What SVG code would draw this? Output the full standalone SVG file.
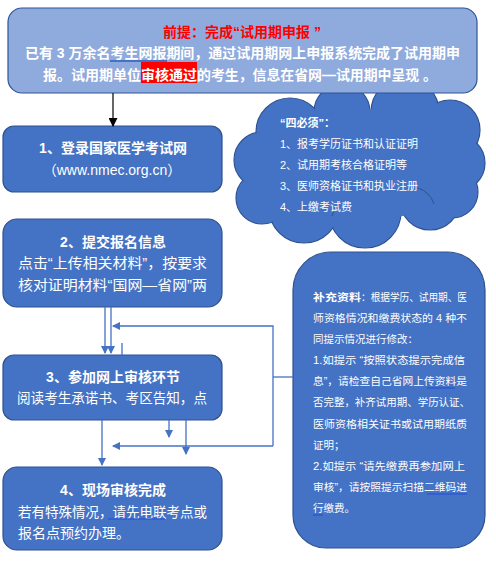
<svg xmlns="http://www.w3.org/2000/svg" width="496" height="563" viewBox="0 0 496 563">
<style>
text{font-family:"Liberation Sans","Noto Sans CJK SC",sans-serif;fill:#fff}
.box{fill:#4472C4;stroke:#2F528F;stroke-width:1.2}
.t14{font-size:14px}
.b{font-weight:bold}
.c{text-anchor:middle}
.s11{font-size:11px}
.s105{font-size:10.5px}
.con{fill:none;stroke:#4472C4;stroke-width:1.3}
.sq{fill:none;stroke:#2E5BD0;stroke-width:1.6}
</style>
<defs>
<marker id="ab" markerWidth="8" markerHeight="8" refX="7" refY="4" orient="auto" markerUnits="userSpaceOnUse">
<path d="M0,0 L8,4 L0,8 Z" fill="#4472C4"/>
</marker>
<marker id="ak" markerWidth="9" markerHeight="9" refX="8" refY="4.5" orient="auto" markerUnits="userSpaceOnUse">
<path d="M0,0 L9,4.5 L0,9 Z" fill="#000"/>
</marker>
</defs>

<g id="cloud">
<g fill="#4472C4" stroke="#2F528F" stroke-width="1.2">
<circle cx="290" cy="132" r="34"/>
<circle cx="342" cy="112" r="28"/>
<circle cx="405" cy="112" r="34"/>
<circle cx="450" cy="130" r="30"/>
<circle cx="457" cy="163" r="28"/>
<circle cx="452" cy="192" r="26"/>
<circle cx="430" cy="200" r="30"/>
<circle cx="365" cy="212" r="36"/>
<circle cx="304" cy="208" r="35"/>
<circle cx="262" cy="198" r="26"/>
<circle cx="262" cy="160" r="28"/>
</g>
<g fill="#4472C4">
<circle cx="290" cy="132" r="33.3"/>
<circle cx="342" cy="112" r="27.3"/>
<circle cx="405" cy="112" r="33.3"/>
<circle cx="450" cy="130" r="29.3"/>
<circle cx="457" cy="163" r="27.3"/>
<circle cx="452" cy="192" r="25.3"/>
<circle cx="430" cy="200" r="29.3"/>
<circle cx="365" cy="212" r="35.3"/>
<circle cx="304" cy="208" r="34.3"/>
<circle cx="262" cy="198" r="25.3"/>
<circle cx="262" cy="160" r="27.3"/>
<ellipse cx="365" cy="165" rx="92" ry="56"/>
</g>
<g fill="none" stroke="#2F528F" stroke-width="1">
<path d="M418,188 Q430,192 434,204"/>
<path d="M332,216 Q335,206 341,202"/>
</g>
<text class="s11 b" x="280" y="127">“四必须”：</text>
<text class="s11" x="280" y="148">1、报考学历证书和认证证明</text>
<text class="s11" x="280" y="169">2、试用期考核合格证明等</text>
<text class="s11" x="280" y="190">3、医师资格证书和执业注册</text>
<text class="s11" x="280" y="211">4、上缴考试费</text>
</g>

<g id="premise">
<rect x="8" y="8" width="469" height="85" rx="14" fill="#8FAADC" stroke="#2F5597" stroke-width="1.2"/>
<text class="t14 b c" x="242" y="37" style="fill:#FF0000">前提：完成“试用期申报 ”</text>
<text class="t14 b" x="25" y="58" textLength="435" lengthAdjust="spacingAndGlyphs">已有 3 万余名考生网报期间，通过试用期网上申报系统完成了试用期申</text>
<line class="sq" x1="110" y1="61" x2="167" y2="61" style="stroke:#4472C4;stroke-width:2"/>
<rect x="141" y="62" width="56" height="21" fill="#FF0000"/>
<text class="t14 b" x="43" y="80" textLength="98" lengthAdjust="spacingAndGlyphs">报。试用期单位</text>
<text class="t14 b" x="141" y="80" textLength="56" lengthAdjust="spacingAndGlyphs">审核通过</text>
<text class="t14 b" x="197" y="80" textLength="240" lengthAdjust="spacingAndGlyphs">的考生，信息在省网—试用期中呈现 。</text>
</g>

<g id="step1">
<rect class="box" x="3" y="126" width="219" height="66" rx="11"/>
<text class="t14 b c" x="113" y="153">1、登录国家医学考试网</text>
<text class="t14 c" x="112" y="175">（www.nmec.org.cn）</text>
</g>

<g id="step2">
<rect class="box" x="3" y="219" width="219" height="88" rx="14"/>
<text class="t14 b c" x="113" y="247">2、提交报名信息</text>
<text class="t14" x="18" y="268" textLength="189" lengthAdjust="spacingAndGlyphs">点击“上传相关材料”，按要求</text>
<text class="t14" x="18" y="290" textLength="189" lengthAdjust="spacingAndGlyphs">核对证明材料“国网—省网”两</text>
</g>

<g id="step3">
<rect class="box" x="3" y="355" width="219" height="65" rx="11"/>
<text class="t14 b c" x="113" y="382">3、参加网上审核环节</text>
<text class="t14" x="17" y="403" textLength="190" lengthAdjust="spacingAndGlyphs">阅读考生承诺书、考区告知，点</text>
</g>

<g id="step4">
<rect class="box" x="3" y="467" width="219" height="83" rx="14"/>
<text class="t14 b c" x="113" y="495">4、现场审核完成</text>
<text class="t14" x="18" y="517" textLength="189" lengthAdjust="spacingAndGlyphs">若有特殊情况，请先电联考点或</text>
<line class="sq" x1="108" y1="519" x2="165" y2="519"/>
<text class="t14" x="18" y="538">报名点预约办理。</text>
</g>

<g id="supplement">
<path class="box" d="M331,252 H447 A38,38 0 0 1 485,290 V515 A33,33 0 0 1 452,548 H326 A33,33 0 0 1 293,515 V290 A38,38 0 0 1 331,252 Z"/>
<text class="s105 b" x="313" y="301" textLength="48" lengthAdjust="spacingAndGlyphs">补充资料</text>
<text class="s105" x="361" y="301" textLength="106" lengthAdjust="spacingAndGlyphs">：根据学历、试用期、医</text>
<text class="s105" x="313" y="322" textLength="154" lengthAdjust="spacingAndGlyphs">师资格情况和缴费状态的 4 种不</text>
<text class="s105" x="313" y="343">同提示情况进行修改：</text>
<text class="s105" x="313" y="364" textLength="152" lengthAdjust="spacingAndGlyphs">1.如提示 “按照状态提示完成信</text>
<text class="s105" x="313" y="385" textLength="154" lengthAdjust="spacingAndGlyphs">息”，请检查自己省网上传资料是</text>
<line class="sq" x1="427" y1="388" x2="455" y2="388"/>
<text class="s105" x="313" y="406" textLength="157" lengthAdjust="spacingAndGlyphs">否完整，补齐试用期、学历认证、</text>
<text class="s105" x="313" y="428" textLength="154" lengthAdjust="spacingAndGlyphs">医师资格相关证书或试用期纸质</text>
<text class="s105" x="313" y="449">证明；</text>
<text class="s105" x="313" y="470" textLength="152" lengthAdjust="spacingAndGlyphs">2.如提示 “请先缴费再参加网上</text>
<text class="s105" x="313" y="491" textLength="154" lengthAdjust="spacingAndGlyphs">审核”，请按照提示扫描二维码进</text>
<line class="sq" x1="427" y1="494" x2="467" y2="494"/>
<text class="s105" x="313" y="512">行缴费。</text>
<line class="sq" x1="313" y1="515" x2="323" y2="515"/>
</g>

<g id="connectors">
<line x1="113" y1="93" x2="113" y2="126" stroke="#000" stroke-width="1.2" marker-end="url(#ak)"/>
<line class="con" x1="105" y1="307" x2="105" y2="353" marker-end="url(#ab)"/>
<line class="con" x1="111" y1="307" x2="111" y2="353" marker-end="url(#ab)"/>
<line class="con" x1="122" y1="343" x2="122" y2="355"/>
<polyline class="con" points="273,446 273,326 113,326" marker-end="url(#ab)"/>
<line class="con" x1="293" y1="377" x2="273" y2="377"/>
<line class="con" x1="273" y1="446" x2="113" y2="446" marker-end="url(#ab)"/>
<line class="con" x1="102" y1="420" x2="102" y2="465" marker-end="url(#ab)"/>
<line class="con" x1="169" y1="420" x2="169" y2="437" marker-end="url(#ab)"/>
<line class="con" x1="186" y1="420" x2="186" y2="454" marker-end="url(#ab)"/>
</g>
</svg>
